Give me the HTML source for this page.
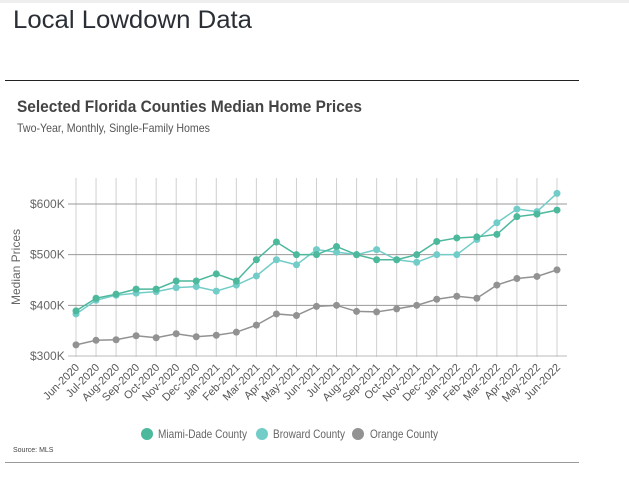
<!DOCTYPE html>
<html><head><meta charset="utf-8"><style>
body{margin:0;background:#fff;width:629px;height:472px;overflow:hidden;font-family:"Liberation Sans",sans-serif}
</style></head><body>
<svg id="chart" width="629" height="472" xmlns="http://www.w3.org/2000/svg" font-family="Liberation Sans, sans-serif">
<rect x="0" y="0" width="629" height="3" fill="#eee"/>
<text x="13" y="28" font-size="25" fill="#2a2f36" textLength="239" lengthAdjust="spacingAndGlyphs">Local Lowdown Data</text>
<line x1="5" y1="80.5" x2="579" y2="80.5" stroke="#222" stroke-width="1"/>
<text x="17" y="112" font-size="17" font-weight="bold" fill="#444" textLength="345" lengthAdjust="spacingAndGlyphs">Selected Florida Counties Median Home Prices</text>
<text x="17" y="132" font-size="12" fill="#555" textLength="193" lengthAdjust="spacingAndGlyphs">Two-Year, Monthly, Single-Family Homes</text>
<text transform="translate(20,267) rotate(-90)" text-anchor="middle" font-size="12" fill="#666">Median Prices</text>
<g id="grid"></g><g id="series"></g><g id="xlabels"></g>
<g>
<circle cx="147" cy="434" r="6" fill="#4cb89c"/><text x="158" y="438" font-size="12" fill="#666" textLength="89" lengthAdjust="spacingAndGlyphs">Miami-Dade County</text>
<circle cx="262" cy="434" r="6" fill="#72ccc8"/><text x="273" y="438" font-size="12" fill="#666" textLength="72" lengthAdjust="spacingAndGlyphs">Broward County</text>
<circle cx="358" cy="434" r="6" fill="#929292"/><text x="370" y="438" font-size="12" fill="#666" textLength="68" lengthAdjust="spacingAndGlyphs">Orange County</text>
</g>
<text x="13" y="452" font-size="7" fill="#444">Source: MLS</text>
<line x1="5" y1="462.5" x2="579" y2="462.5" stroke="#999" stroke-width="1"/>
</svg>
<script>
const months=["Jun-2020","Jul-2020","Aug-2020","Sep-2020","Oct-2020","Nov-2020","Dec-2020","Jan-2021","Feb-2021","Mar-2021","Apr-2021","May-2021","Jun-2021","Jul-2021","Aug-2021","Sep-2021","Oct-2021","Nov-2021","Dec-2021","Jan-2022","Feb-2022","Mar-2022","Apr-2022","May-2022","Jun-2022"];
const miami=[389,414,422,432,432,448,448,462,448,490,525,500,500,516,500,490,490,500,526,533,535,540,575,580,588];
const broward=[383,410,420,424,427,435,437,428,440,458,490,480,510,505,500,510,490,485,500,500,530,563,590,585,621];
const orange=[322,331,332,340,336,344,338,341,347,361,383,380,398,400,388,387,393,400,412,418,414,440,453,457,470];
const yTicks=[300,400,500,600];
const yTickLabels=["$300K","$400K","$500K","$600K"];
const NS="http://www.w3.org/2000/svg";
const x=i=>76+i*(557-76)/(months.length-1);
const y=v=>356-(v-300)*(356-204)/300;
function mk(tag,attrs,parent){const e=document.createElementNS(NS,tag);for(const k in attrs)e.setAttribute(k,attrs[k]);parent.appendChild(e);return e;}
const grid=document.getElementById('grid'),ser=document.getElementById('series'),xl=document.getElementById('xlabels');
months.forEach((m,i)=>{
  const l=mk('line',{x1:x(i),x2:x(i),y1:178,y2:357,stroke:'#d0d0d0','stroke-width':1},grid);
  
  
  const t=mk('text',{transform:`translate(${x(i)+4},${368}) rotate(-45)`,'text-anchor':'end','font-size':11,fill:'#555'},xl);
  
  
  t.textContent=m;
});
yTicks.forEach((v,i)=>{
  const l=mk('line',{x1:68,x2:567,y1:y(v),y2:y(v),stroke:v===300?'#bbb':'#999','stroke-width':1},grid);
  
  
  const t=mk('text',{x:30,y:y(v)+4,'font-size':12,fill:'#666'},grid);
  
  
  t.textContent=yTickLabels[i];
});
function draw(data,color,name){
  const g=mk('g',{},ser);
  
  
  const p=mk('polyline',{points:data.map((v,i)=>x(i)+','+y(v)).join(' '),fill:'none',stroke:color,'stroke-width':1.5},g);
  
  
  data.forEach((v,i)=>{
    const c=mk('circle',{cx:x(i),cy:y(v),r:3.5,fill:color},g);
    
    
  });
}
draw(orange,'#929292','orange-series');
draw(broward,'#72ccc8','broward-series');
draw(miami,'#4cb89c','miami-series');
</script>
</body></html>
